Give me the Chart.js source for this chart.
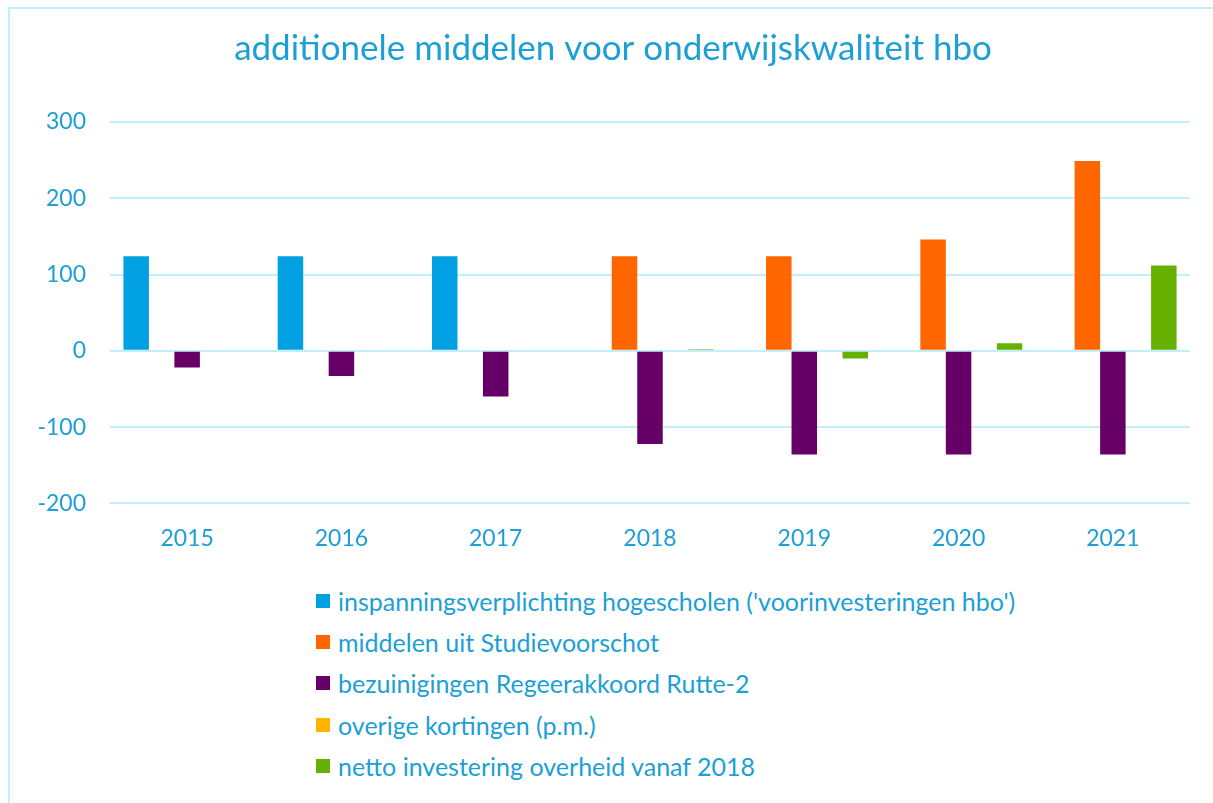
<!DOCTYPE html>
<html>
<head>
<meta charset="utf-8">
<script src="https://cdn.jsdelivr.net/npm/chart.js@4.4.1/dist/chart.umd.min.js"></script>
<style>
  html, body { margin: 0; padding: 0; background: #fff; overflow: hidden; }
  #page { position: relative; width: 1213px; height: 803px; overflow: hidden; }
  #frame { position: absolute; left: 8px; top: 7px; width: 1400px; height: 1000px; border: 2px solid #c3eefc; }
  #wrap { position: absolute; left: 36px; top: 0; width: 1177px; height: 565px; }
  #legend { position: absolute; left: 316px; top: 580px; font-family: Lato, "Open Sans", sans-serif; font-size: 25px; color: #1c9fd6; }
  #legend div { height: 41.3px; display: flex; align-items: center; }
  #legend span.box { width: 14px; height: 14px; margin-right: 8px; display: inline-block; }
</style>
</head>
<body>
<div id="page">
  <div id="frame"></div>
  <div id="wrap"><canvas id="chart"></canvas></div>
  <div id="legend"></div>
</div>
<script>
const years = ["2015", "2016", "2017", "2018", "2019", "2020", "2021"];
const seriesNames = [
  "inspanningsverplichting hogescholen ('voorinvesteringen hbo')",
  "middelen uit Studievoorschot",
  "bezuinigingen Regeerakkoord Rutte-2",
  "overige kortingen (p.m.)",
  "netto investering overheid vanaf 2018"
];
const voorinvesteringen = [124, 124, 124, null, null, null, null];
const studievoorschot = [null, null, null, 124, 124, 146, 249];
const bezuinigingen = [-22, -33, -60, -122, -136, -136, -136];
const overigeKortingen = [null, null, null, null, null, null, null];
const nettoInvestering = [null, null, null, 2, -10, 10, 112];
const yTicks = [-200, -100, 0, 100, 200, 300];

const colors = ["#00a0e3", "#ff6600", "#660066", "#ffb400", "#66b000"];
const textColor = "#1c9fd6";
const values = [voorinvesteringen, studievoorschot, bezuinigingen, overigeKortingen, nettoInvestering];

const datasets = values.map((data, i) => ({
  label: seriesNames[i],
  data: data,
  backgroundColor: colors[i],
  borderColor: colors[i],
  borderWidth: 0,
  categoryPercentage: 0.826,
  barPercentage: 1
}));

new Chart(document.getElementById("chart"), {
  type: "bar",
  data: { labels: years, datasets: datasets },
  options: {
    responsive: true,
    maintainAspectRatio: false,
    animation: false,
    layout: { padding: { left: 0, right: 23, top: 0, bottom: 0 } },
    plugins: {
      legend: { display: false },
      tooltip: { enabled: false },
      title: {
        display: true,
        text: "additionele middelen voor onderwijskwaliteit hbo",
        color: textColor,
        font: { family: "Lato", size: 35, weight: "normal" },
        padding: { top: 28, bottom: 52 }
      }
    },
    scales: {
      x: {
        grid: { display: false },
        border: { display: false },
        ticks: { color: textColor, font: { family: "Lato", size: 23 }, padding: 13 }
      },
      y: {
        min: -200,
        max: 300,
        afterFit: (scale) => { scale.width = 74; },
        afterBuildTicks: (scale) => { scale.ticks = yTicks.map((v) => ({ value: v })); },
        grid: { color: "#c3eefc", lineWidth: 2, drawTicks: false },
        border: { display: false },
        ticks: { color: textColor, font: { family: "Lato", size: 23 }, padding: 24 }
      }
    }
  }
});

document.getElementById("legend").innerHTML = seriesNames.map((name, i) =>
  `<div><span class="box" style="background:${colors[i]}"></span>${name}</div>`
).join("");
</script>
</body>
</html>
